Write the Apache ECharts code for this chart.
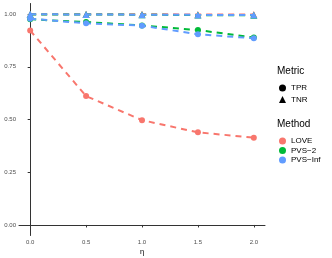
<!DOCTYPE html>
<html><head><meta charset="utf-8">
<script src="https://cdn.jsdelivr.net/npm/echarts@6/dist/echarts.min.js"></script>
<style>html,body{margin:0;padding:0;background:#fff}#c{width:332px;height:258px}</style>
</head><body><div id="c"></div>
<script>
const eta = [0.0, 0.5, 1.0, 1.5, 2.0];
const xTicks = [0.0, 0.5, 1.0, 1.5, 2.0];
const yTicks = [0.00, 0.25, 0.50, 0.75, 1.00];
const methods = ['LOVE', 'PVS\u22122', 'PVS\u2212Inf'];
const colors = ['#F8766D', '#00BA38', '#619CFF'];
const loveTPR = [0.922, 0.611, 0.497, 0.439, 0.414];
const loveTNR = [0.999, 0.999, 0.999, 0.998, 0.998];
const pvs2TPR = [0.975, 0.962, 0.946, 0.924, 0.889];
const pvs2TNR = [0.998, 0.998, 0.997, 0.995, 0.994];
const pvsInfTPR = [0.978, 0.956, 0.945, 0.904, 0.885];
const pvsInfTNR = [0.999, 0.998, 0.997, 0.996, 0.995];

const tpr = [loveTPR, pvs2TPR, pvsInfTPR];
const tnr = [loveTNR, pvs2TNR, pvsInfTNR];
const pts = arr => eta.map((x, i) => [x, arr[i]]);

const series = [];
methods.forEach((m, k) => {
  series.push({name: m, type: 'line', data: pts(tpr[k]), symbol: 'circle', symbolSize: 6,
    lineStyle: {type: [6, 5], width: 2, color: colors[k]}, itemStyle: {color: colors[k]}, z: 2 + k});
  series.push({name: m, type: 'line', data: pts(tnr[k]), symbol: 'triangle', symbolSize: 7,
    lineStyle: {type: [6, 5], width: 2, color: colors[k]}, itemStyle: {color: colors[k]}, z: 2 + k});
});
series.push({name: 'TPR', type: 'line', data: [], symbol: 'circle', itemStyle: {color: '#000'}});
series.push({name: 'TNR', type: 'line', data: [], symbol: 'triangle', itemStyle: {color: '#000'}});

const chart = echarts.init(document.getElementById('c'), null, {renderer: 'canvas'});
const fnt = 'Liberation Sans, Arial, sans-serif';
chart.setOption({
  animation: false,
  grid: {left: 19, top: 3.5, width: 246, height: 232, containLabel: false, outerBoundsMode: 'none'},
  xAxis: {type: 'value', min: -0.1, max: 2.1,
    name: '\u03b7', nameLocation: 'middle', nameGap: 12.5, nameMoveOverlap: false,
    nameTextStyle: {fontSize: 7.5, color: '#000', fontFamily: fnt},
    axisLine: {show: true, lineStyle: {color: '#333', width: 1}},
    axisTick: {show: true, length: 2.5, lineStyle: {color: '#333'}, customValues: xTicks},
    axisLabel: {fontSize: 6, color: '#4D4D4D', margin: 4, fontFamily: fnt, customValues: xTicks,
      formatter: v => v.toFixed(1)},
    splitLine: {show: false}},
  yAxis: {type: 'value', min: -0.05, max: 1.05,
    axisLine: {show: true, lineStyle: {color: '#333', width: 1}},
    axisTick: {show: true, length: 2.5, lineStyle: {color: '#333'}, customValues: yTicks},
    axisLabel: {fontSize: 6, color: '#4D4D4D', margin: 3, fontFamily: fnt, customValues: yTicks,
      formatter: v => v.toFixed(2)},
    splitLine: {show: false}},
  legend: [
    {orient: 'vertical', left: 279, top: 84, padding: 0, itemWidth: 7, itemHeight: 7, itemGap: 3.5, itemTextGap: 8,
      textStyle: {fontSize: 8, color: '#000', fontFamily: fnt},
      data: [{name: 'TPR', icon: 'circle'}, {name: 'TNR', icon: 'triangle'}], selectedMode: false},
    {orient: 'vertical', left: 279, top: 137, padding: 0, itemWidth: 7, itemHeight: 7, itemGap: 1.5, itemTextGap: 8,
      textStyle: {fontSize: 8, color: '#000', fontFamily: fnt},
      data: methods.map(m => ({name: m, icon: 'circle'})), selectedMode: false}
  ],
  graphic: [
    {type: 'text', left: 277, top: 66, style: {text: 'Metric', fontSize: 10, fill: '#000', fontFamily: fnt}},
    {type: 'text', left: 277, top: 119, style: {text: 'Method', fontSize: 10, fill: '#000', fontFamily: fnt}}
  ],
  series: series
});
</script></body></html>
